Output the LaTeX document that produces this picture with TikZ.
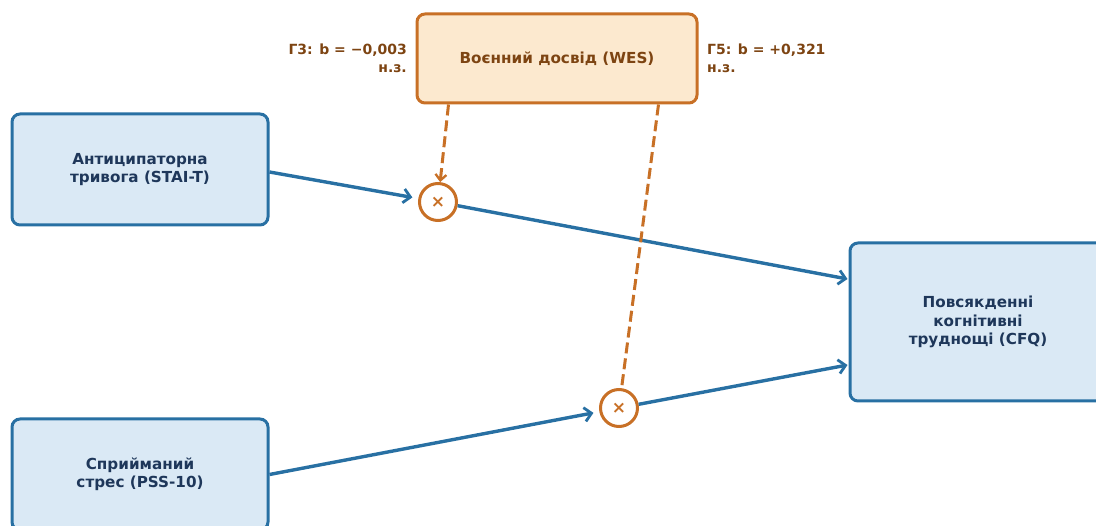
\documentclass[tikz,border=0pt]{standalone}
\usepackage{fontspec}
\setmainfont{DejaVu Sans}
\usetikzlibrary{arrows.meta,calc}
\definecolor{bluefill}{RGB}{218,233,245}
\definecolor{blueline}{RGB}{40,112,163}
\definecolor{navytext}{RGB}{30,55,90}
\definecolor{orfill}{RGB}{252,233,207}
\definecolor{orline}{RGB}{200,112,38}
\definecolor{browntext}{RGB}{125,68,18}
\begin{document}
\begin{tikzpicture}[x=1pt,y=-1pt,
  every node/.style={font=\fontsize{15.2}{18.5}\selectfont\bfseries},
  bluebox/.style={draw=blueline,fill=bluefill,line width=3pt,rounded corners=8pt,
    text=navytext,align=center,inner sep=0pt},
  orbox/.style={draw=orline,fill=orfill,line width=3pt,rounded corners=8pt,
    text=browntext,align=center,inner sep=0pt},
  mult/.style={draw=orline,fill=white,line width=3pt,circle,minimum size=37pt,inner sep=0pt,text=orline,
    font=\fontsize{17}{17}\selectfont\bfseries},
  blarrow/.style={draw=blueline,line width=3.4pt,-{Straight Barb[length=7pt,width=14pt,line width=2.8pt]}},
  dasharrow/.style={draw=orline,line width=3pt,dash pattern=on 11pt off 5pt},
  lbl/.style={text=browntext,inner sep=0pt,font=\fontsize{14}{18}\selectfont\bfseries}
]
\useasboundingbox (0,0) rectangle (1096,526);
\node[orbox,minimum width=280pt,minimum height=89pt] (wes) at (557,58.5) {Воєнний досвід (WES)};
\node[bluebox,minimum width=256pt,minimum height=111pt] (stai) at (140,169.5) {Антиципаторна\\тривога (STAI-T)};
\node[bluebox,minimum width=256pt,minimum height=111pt] (pss) at (140,474.5) {Сприйманий\\стрес (PSS-10)};
\node[bluebox,minimum width=256pt,minimum height=158pt] (cfq) at (978,322) {Повсякденні\\когнітивні\\труднощі (CFQ)};
\node[mult] (c1) at (438,202) {×};
\node[mult] (c2) at (619,408) {×};
\node[lbl,anchor=east,align=right] (g3) at (407,58) {Г3: b = −0,003\\н.з.};
\node[lbl,anchor=west,align=left] (g5) at (707,58) {Г5: b = +0,321\\н.з.};
\coordinate (s1) at ($(stai.east)+(0,2.5)$);
\coordinate (e1) at ($(cfq.west)+(-1,-43)$);
\coordinate (e2) at ($(cfq.west)+(-1,43)$);
\coordinate (d1) at ($(wes.south west)+(33,0)$);
\coordinate (d2) at ($(wes.south west)+(243,0)$);
\draw[blarrow,shorten >=6pt] (s1) -- (c1);
\draw[blarrow] (c1) -- (e1);
\draw[blarrow,shorten >=6pt] (pss.east) -- (c2);
\draw[blarrow] (c2) -- (e2);
\draw[dasharrow,-{Straight Barb[length=6pt,width=11pt,line width=2.3pt]}] (d1) -- (c1);
\draw[dasharrow] (d2) -- (c2);
\end{tikzpicture}
\end{document}
